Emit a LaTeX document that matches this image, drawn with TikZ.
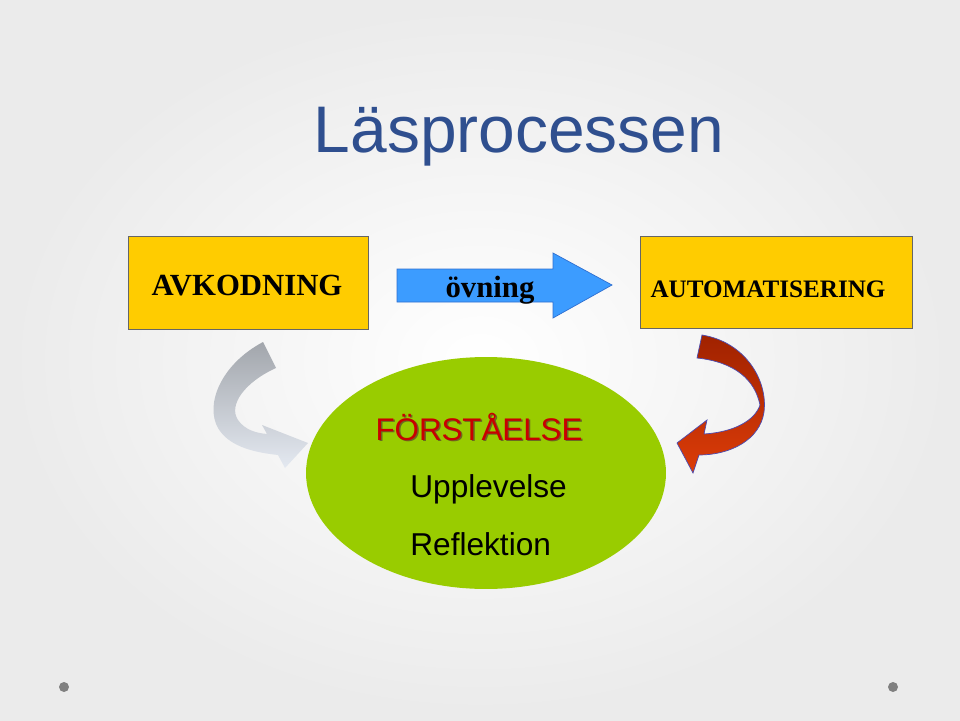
\documentclass[tikz,border=0pt]{standalone}
\usepackage{fontspec}
\setmainfont{Liberation Serif}
\setsansfont{Liberation Sans}
\usetikzlibrary{shadings}

\definecolor{titleblue}{HTML}{2F4F8F}
\definecolor{boxyellow}{HTML}{FFCC00}
\definecolor{arrowblue}{HTML}{3C9CFF}
\definecolor{arrowblueline}{HTML}{2F6FD0}
\definecolor{leafgreen}{HTML}{99CC00}
\definecolor{wordred}{HTML}{C80000}
\definecolor{graytop}{HTML}{A2A6AC}
\definecolor{graybottom}{HTML}{E4E9F1}
\definecolor{redtop}{HTML}{A02200}
\definecolor{redbottom}{HTML}{DC3C08}

\tikzset{
  box/.style={draw=gray!80!black, fill=boxyellow},
  bigword/.style={font=\bfseries\fontsize{17.5}{20}\selectfont, anchor=base},
  bodyword/.style={font=\sffamily\fontsize{18}{20}\selectfont, anchor=base west, inner sep=0pt}
}

\begin{document}
\begin{tikzpicture}[x=0.02cm, y=-0.02cm]

% === Background ===
\useasboundingbox (0,0) rectangle (960,720);
\shade[inner color=white, outer color=gray!16] (0,0) rectangle (960,720);

% === Title ===
\node[titleblue, font=\sffamily\fontsize{37.5}{40}\selectfont, anchor=base] (title) at (519,152) {Läsprocessen};

% === Boxes ===
\draw[box] (128,236) rectangle (368,329);
\node[bigword] (avkod) at (247,295) {AVKODNING};
\draw[box] (640,236) rectangle (912,328);
\node[bigword, font=\bfseries\fontsize{14.3}{16}\selectfont] (automat) at (768,297) {AUTOMATISERING};

% === Blue arrow ===
\draw[fill=arrowblue, draw=arrowblueline] (397,269) -- (553,269) -- (553,253) -- (612,285)
    -- (553,318) -- (553,302) -- (397,302) -- cycle;
\node[bigword] (ovning) at (490,297) {övning};

% === Ellipse ===
\fill[leafgreen] (486,473) ellipse (3.6cm and 2.32cm);
\node[bigword, font=\sffamily\fontsize{17.8}{20}\selectfont, olive!70!black] at (480.5,441.5) {FÖRSTÅELSE};
\node[bigword, font=\sffamily\fontsize{17.8}{20}\selectfont, wordred] (forst) at (479,440) {FÖRSTÅELSE};
\node[bodyword] (uppl) at (410,497) {Upplevelse};
\node[bodyword] (refl) at (410,555) {Reflektion};

% === Gray curved arrow ===
\shade[top color=graytop, bottom color=graybottom] (263,342) -- (276,368)
    .. controls (245,382) and (228,405) .. (238,420)
    .. controls (245,430) and (256,433) .. (267,434)
    -- (262,425) -- (308,443) -- (285,468) -- (278,455)
    .. controls (250,452) and (228,445) .. (218,428)
    .. controls (205,405) and (220,365) .. (263,342) -- cycle;

% === Red curved arrow ===
\shade[top color=redtop, bottom color=redbottom, draw=blue!40!gray, line width=0.4pt] (702,335)
    .. controls (745,342) and (768,380) .. (764,412)
    .. controls (760,440) and (730,455) .. (699,455)
    -- (693,473) -- (677,443) -- (707,420) -- (704,434)
    .. controls (735,432) and (755,420) .. (760,405)
    .. controls (755,380) and (735,362) .. (697,358) -- cycle;

% === Bullets ===
\fill[gray] (64,687) circle (0.1cm);
\fill[gray] (893,687) circle (0.1cm);

\end{tikzpicture}
\end{document}
